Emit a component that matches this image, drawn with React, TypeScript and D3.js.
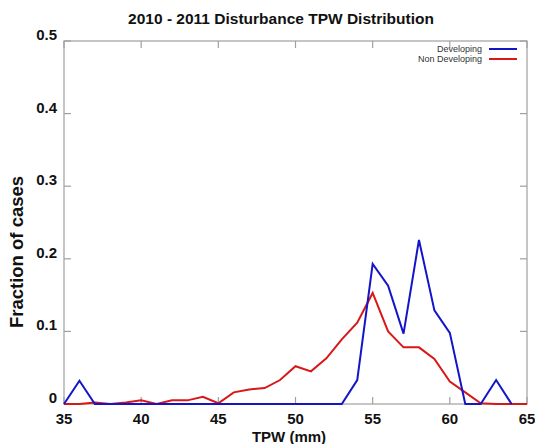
import React, { useEffect, useRef } from 'react';
import * as d3 from 'd3';

const tpw = d3.range(35, 66); // 35..65 mm
const developing = [
  0, 0.032, 0, 0, 0, 0, 0, 0, 0, 0,
  0, 0, 0, 0, 0, 0, 0, 0, 0, 0.033,
  0.193, 0.163, 0.097, 0.226, 0.129, 0.098, 0, 0, 0.033, 0,
];
const nonDeveloping = [
  0, 0, 0.002, 0, 0.002, 0.005, 0, 0.005, 0.005, 0.01,
  0.001, 0.016, 0.02, 0.022, 0.033, 0.052, 0.045, 0.063, 0.089, 0.112,
  0.153, 0.1, 0.078, 0.078, 0.062, 0.031, 0.016, 0.001, 0, 0, 0,
];
const xTicks = [35, 40, 45, 50, 55, 60, 65];
const yTicks = [0, 0.1, 0.2, 0.3, 0.4, 0.5];
const seriesNames = ['Developing', 'Non Developing'];
const seriesColors = ['#1414c8', '#d81818'];

const FONT = '"Liberation Sans", Arial, sans-serif';

const App = () => {
  const ref = useRef<SVGSVGElement | null>(null);

  useEffect(() => {
    const svg = d3.select(ref.current);
    svg.selectAll('*').remove();

    const left = 64, top = 41, right = 527, bottom = 404;
    const x = d3.scaleLinear().domain([35, 65]).range([left, right]);
    const y = d3.scaleLinear().domain([0, 0.5]).range([bottom, top]);

    svg.append('rect').attr('width', 535).attr('height', 444).attr('fill', 'white');

    // title
    svg.append('text')
      .attr('x', 281).attr('y', 24)
      .attr('text-anchor', 'middle')
      .style('font-family', FONT).style('font-size', '15.5px').style('font-weight', 'bold')
      .attr('fill', '#111')
      .text('2010 - 2011 Disturbance TPW Distribution');

    // frame
    svg.append('rect')
      .attr('x', left).attr('y', top)
      .attr('width', right - left).attr('height', bottom - top)
      .attr('fill', 'none').attr('stroke', '#a0a0a0').attr('stroke-width', 1.2);

    const tickLen = 7;
    const g = svg.append('g').attr('stroke', '#a0a0a0').attr('stroke-width', 1.2);
    xTicks.forEach((t) => {
      g.append('line').attr('x1', x(t)).attr('x2', x(t)).attr('y1', bottom).attr('y2', bottom - tickLen);
      g.append('line').attr('x1', x(t)).attr('x2', x(t)).attr('y1', top).attr('y2', top + tickLen);
    });
    yTicks.forEach((t) => {
      g.append('line').attr('x1', left).attr('x2', left + tickLen).attr('y1', y(t)).attr('y2', y(t));
      g.append('line').attr('x1', right).attr('x2', right - tickLen).attr('y1', y(t)).attr('y2', y(t));
    });

    // tick labels
    svg.append('g').selectAll('text').data(xTicks).enter().append('text')
      .attr('x', (d) => x(d)).attr('y', 424)
      .attr('text-anchor', 'middle')
      .style('font-family', FONT).style('font-size', '15px').style('font-weight', 'bold')
      .attr('fill', '#111')
      .text((d) => String(d));

    svg.append('g').selectAll('text').data(yTicks).enter().append('text')
      .attr('x', 57).attr('y', (d) => y(d) - 1)
      .attr('text-anchor', 'end')
      .style('font-family', FONT).style('font-size', '15px').style('font-weight', 'bold')
      .attr('fill', '#111')
      .text((d) => (d === 0 ? '0' : d3.format('.1f')(d)));

    // axis titles
    svg.append('text')
      .attr('x', 289).attr('y', 442)
      .attr('text-anchor', 'middle')
      .style('font-family', FONT).style('font-size', '15px').style('font-weight', 'bold')
      .attr('fill', '#111')
      .text('TPW (mm)');

    svg.append('text')
      .attr('transform', 'translate(23,252) rotate(-90)')
      .attr('text-anchor', 'middle')
      .style('font-family', FONT).style('font-size', '18.5px').style('font-weight', 'bold')
      .attr('fill', '#111')
      .text('Fraction of cases');

    // series
    const line = d3.line<number>()
      .x((d, i) => x(tpw[i]))
      .y((d) => y(d));

    [nonDeveloping, developing].forEach((vals, k) => {
      const idx = k === 0 ? 1 : 0;
      svg.append('path')
        .datum(vals)
        .attr('d', line)
        .attr('fill', 'none')
        .attr('stroke', seriesColors[idx])
        .attr('stroke-width', 2)
        .attr('stroke-linejoin', 'miter');
    });

    // legend
    seriesNames.forEach((name, i) => {
      const ly = 49 + i * 10;
      svg.append('text')
        .attr('x', 482).attr('y', ly + 3)
        .attr('text-anchor', 'end')
        .style('font-family', FONT).style('font-size', '9px')
        .attr('fill', '#333')
        .text(name);
      svg.append('line')
        .attr('x1', 489).attr('x2', 517).attr('y1', ly).attr('y2', ly)
        .attr('stroke', seriesColors[i]).attr('stroke-width', 2);
    });
  }, []);

  return (
    <svg
      ref={ref}
      width={535}
      height={444}
      style={{ position: 'absolute', left: 0, top: 0, display: 'block' }}
    />
  );
};

export default App;
